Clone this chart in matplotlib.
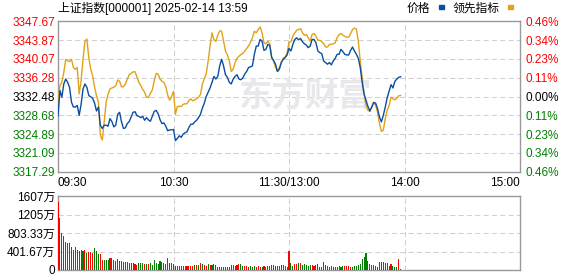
import numpy as np
import matplotlib
matplotlib.use('Agg')
from matplotlib import pyplot as plt
from matplotlib.patches import Rectangle

plt.rcParams['font.family'] = ['Liberation Sans', 'Noto Sans CJK SC']

# ---- data ----
title = '上证指数[000001] 2025-02-14 13:59'
prev_close = 3332.48
price_ticks = [3317.29, 3321.09, 3324.89, 3328.68, 3332.48, 3336.28, 3340.07, 3343.87, 3347.67]
pct_labels = ['0.46%', '0.34%', '0.23%', '0.11%', '0.00%', '0.11%', '0.23%', '0.34%', '0.46%']
time_ticks = [0, 60, 120, 180, 240]
time_labels = ['09:30', '10:30', '11:30/13:00', '14:00', '15:00']
vol_ticks = [0, 401.67, 803.33, 1205, 1607]
vol_labels = ['0', '401.67万', '803.33万', '1205万', '1607万']

price = [
    3328.55, 3333.68, 3332.34, 3335.01, 3336.01, 3335.34, 3334.34, 3331.34, 3330.35, 3330.35,
    3330.68, 3328.68, 3330.88, 3334.01, 3335.01, 3334.34, 3332.68, 3332.41, 3332.14, 3331.14,
    3329.55, 3330.35, 3326.68, 3326.02, 3326.68, 3326.68, 3326.48, 3328.01, 3327.41, 3326.35,
    3326.68, 3328.88, 3329.28, 3327.35, 3326.02, 3326.15, 3327.01, 3327.41, 3328.35, 3329.28,
    3329.41, 3328.61, 3328.48, 3328.21, 3328.48, 3327.68, 3328.21, 3327.75, 3327.48, 3328.48,
    3329.48, 3329.68, 3329.01, 3327.81, 3327.01, 3327.15, 3326.48, 3325.55, 3325.75, 3325.75,
    3325.82, 3323.55, 3324.02, 3324.55, 3324.22, 3324.88, 3325.15, 3325.35, 3326.22, 3326.88,
    3326.88, 3327.35, 3327.68, 3328.21, 3328.88, 3330.15, 3331.14, 3332.48, 3333.34, 3334.21,
    3335.34, 3336.54, 3336.01, 3336.54, 3338.67, 3340.00, 3338.67, 3336.87, 3336.34, 3335.34,
    3335.01, 3336.01, 3336.54, 3336.87, 3336.01, 3335.87, 3336.21, 3337.01, 3337.54, 3338.34,
    3338.47, 3338.67, 3341.00, 3342.67, 3342.67, 3344.00, 3343.67, 3341.80, 3342.00, 3343.00,
    3342.80, 3340.34, 3339.74, 3339.00, 3337.54, 3338.01, 3339.34, 3340.00, 3340.34, 3340.87,
    3342.20, 3341.67, 3343.00, 3344.00, 3344.33, 3343.93, 3344.20, 3343.53, 3343.13, 3342.87,
    3342.34, 3342.67, 3344.00, 3344.00, 3343.33, 3341.67, 3341.34, 3341.14, 3339.67, 3339.34,
    3339.00, 3339.34, 3338.87, 3339.67, 3340.20, 3341.00, 3341.00, 3342.00, 3341.54, 3341.00,
    3340.87, 3340.87, 3341.80, 3342.47, 3341.67, 3341.00, 3340.20, 3338.34, 3335.34, 3333.01,
    3331.68, 3330.48, 3329.55, 3330.35, 3331.28, 3331.14, 3330.01, 3328.35, 3327.35, 3328.68,
    3330.35, 3332.21, 3333.54, 3334.87, 3334.21, 3335.54, 3336.01, 3336.34, 3336.47,
]

lead = [
    3331.34, 3334.67, 3335.34, 3337.34, 3340.00, 3339.67, 3339.54, 3340.00, 3338.34, 3337.94,
    3338.34, 3333.01, 3335.67, 3340.00, 3343.67, 3344.07, 3340.34, 3338.01, 3336.67, 3334.34,
    3332.68, 3331.34, 3324.68, 3323.68, 3327.35, 3331.34, 3332.88, 3334.01, 3334.21, 3334.34,
    3334.67, 3335.81, 3335.54, 3334.41, 3334.48, 3335.01, 3336.01, 3336.87, 3337.14, 3337.47,
    3337.47, 3336.47, 3335.34, 3334.67, 3333.94, 3333.34, 3332.34, 3332.28, 3333.14, 3333.81,
    3335.67, 3337.14, 3337.01, 3336.01, 3335.54, 3335.34, 3334.48, 3332.74, 3331.74, 3332.48,
    3333.54, 3328.88, 3330.48, 3330.48, 3330.48, 3330.88, 3331.01, 3331.01, 3331.68, 3332.01,
    3331.61, 3331.81, 3332.01, 3332.34, 3332.88, 3335.01, 3336.07, 3337.01, 3339.67, 3342.67,
    3345.33, 3344.00, 3343.60, 3344.87, 3345.73, 3345.67, 3343.67, 3341.67, 3340.87, 3339.67,
    3337.54, 3338.01, 3339.34, 3340.20, 3340.60, 3340.94, 3341.20, 3341.67, 3342.14, 3342.73,
    3343.40, 3344.33, 3345.67, 3345.33, 3346.00, 3346.53, 3345.33, 3343.33, 3343.13, 3343.67,
    3343.13, 3340.47, 3339.67, 3338.34, 3337.54, 3338.34, 3339.34, 3340.20, 3340.47, 3341.20,
    3343.53, 3343.53, 3344.67, 3345.33, 3345.87, 3346.00, 3346.20, 3345.33, 3344.87, 3345.00,
    3344.33, 3343.67, 3345.00, 3345.20, 3344.67, 3343.87, 3343.80, 3343.60, 3343.13, 3342.47,
    3342.47, 3343.00, 3343.00, 3343.13, 3343.33, 3344.33, 3345.00, 3345.20, 3344.87, 3344.60,
    3344.47, 3344.47, 3345.20, 3346.00, 3346.33, 3346.13, 3343.67, 3339.67, 3336.34, 3333.01,
    3330.68, 3329.68, 3329.48, 3330.48, 3331.28, 3330.68, 3329.35, 3327.01, 3325.42, 3325.68,
    3328.01, 3329.68, 3330.68, 3332.34, 3332.01, 3331.81, 3332.14, 3332.61, 3332.68,
]

# volume in 万, per minute
volume = [
    1484, 1129, 811, 738, 608, 594, 594, 507, 434, 507,
    434, 413, 434, 413, 434, 376, 391, 391, 362, 470,
    413, 347, 347, 217, 217, 217, 217, 261, 261, 217,
    203, 232, 203, 188, 181, 174, 167, 145, 145, 159,
    138, 116, 152, 145, 145, 130, 130, 130, 159, 109,
    217, 159, 130, 195, 181, 145, 130, 268, 159, 159,
    130, 87, 87, 87, 87, 94, 80, 80, 80, 80,
    87, 101, 109, 116, 159, 130, 109, 94, 130, 101,
    101, 130, 116, 72, 72, 72, 72, 72, 72, 72,
    109, 101, 87, 116, 123, 123, 87, 80, 94, 72,
    80, 72, 80, 72, 87, 72, 65, 87, 65, 80,
    80, 101, 101, 80, 80, 87, 101, 101, 87, 72,
    420,
    145, 87, 130, 130, 152, 152, 109, 130, 109, 87,
    109, 101, 87, 109, 130, 65, 65, 174, 109, 87,
    65, 87, 65, 65, 65, 80, 72, 87, 87, 87,
    80, 65, 72, 87, 87, 101, 138, 239, 282, 369,
    195, 123, 109, 109, 87, 65, 174, 174, 174, 152,
    152, 87, 130, 87, 65, 65, 239, 22,
]
# 1 = up minute (red), 0 = down minute (green)
vol_up = [
    1, 0, 1, 1, 0, 0, 0, 0, 1, 1,
    1, 1, 1, 0, 1, 0, 1, 1, 1, 0,
    0, 0, 1, 1, 0, 0, 0, 1, 1, 1,
    1, 1, 1, 1, 1, 1, 1, 0, 0, 0,
    1, 1, 0, 0, 0, 1, 0, 1, 0, 0,
    0, 0, 0, 0, 1, 1, 1, 0, 1, 1,
    1, 0, 1, 1, 1, 0, 1, 1, 1, 1,
    1, 0, 1, 0, 1, 0, 1, 1, 0, 1,
    0, 0, 0, 1, 1, 1, 1, 1, 0, 1,
    1, 1, 1, 1, 1, 0, 0, 1, 1, 1,
    0, 0, 0, 1, 1, 1, 0, 1, 1, 1,
    1, 1, 0, 0, 1, 0, 1, 1, 0, 1,
    1,
    0, 0, 1, 1, 0, 1, 0, 0, 0, 0,
    0, 1, 1, 0, 0, 1, 0, 0, 1, 0,
    0, 0, 1, 1, 1, 1, 0, 0, 1, 1,
    1, 1, 0, 0, 0, 0, 0, 0, 0, 0,
    0, 0, 1, 1, 0, 0, 0, 0, 1, 1,
    1, 1, 1, 0, 0, 0, 1, 1,
]

BLUE = '#0b4ea2'
ORANGE = '#e0a21b'
RED = '#ff0000'
GREEN = '#008000'
GRID = '#d0d0d0'
FS = 8.5

W, H = 578, 276


def fx(px):
    return px / W


def fy(py):
    return 1 - py / H


def style_axes(ax):
    for s in ax.spines.values():
        s.set_color('#999999')
        s.set_linewidth(1.0)
    ax.tick_params(length=0, labelsize=FS)
    ax.grid(True, color=GRID, linestyle=(0, (5, 3)), linewidth=0.75)
    ax.set_axisbelow(True)


def main():
    fig = plt.figure(figsize=(W / 100, H / 100), dpi=100)
    ax = fig.add_axes([fx(58), fy(171.7), fx(462), 150.4 / H])
    axv = fig.add_axes([fx(58), fy(270), fx(462), 74 / H])

    t = np.arange(len(price))
    style_axes(ax)
    ax.plot(t, lead, color=ORANGE, lw=1.0, zorder=3)
    ax.plot(t, price, color=BLUE, lw=1.0, zorder=4)
    ax.set_xlim(0, 240)
    ax.set_ylim(price_ticks[0], price_ticks[-1])
    ax.set_yticks(price_ticks, [f'{p:.2f}' for p in price_ticks])
    ax.tick_params(axis='y', pad=2)
    for lab, p in zip(ax.get_yticklabels(), price_ticks):
        lab.set_color(RED if p > prev_close + 0.01 else GREEN if p < prev_close - 0.01 else 'black')
    ax.set_xticks(time_ticks, time_labels)
    ax.tick_params(axis='x', pad=4)
    xl = ax.get_xticklabels()
    xl[0].set_ha('left')
    xl[-1].set_ha('right')

    axr = ax.twinx()
    axr.set_ylim(price_ticks[0], price_ticks[-1])
    axr.set_yticks(price_ticks, pct_labels[::-1])
    axr.tick_params(length=0, labelsize=FS, pad=4)
    for s in axr.spines.values():
        s.set_visible(False)
    for lab, p in zip(axr.get_yticklabels(), price_ticks):
        lab.set_color(RED if p > prev_close + 0.01 else GREEN if p < prev_close - 0.01 else 'black')

    # watermark
    ax.text(fx(305), fy(97), '东方财富', transform=fig.transFigure, fontsize=24,
            fontweight='bold', color='#e8e8ec', ha='center', va='center',
            family='Noto Sans CJK SC', zorder=1)

    # volume panel
    style_axes(axv)
    tv = np.arange(len(volume))
    colors = [RED if u else GREEN for u in vol_up]
    axv.bar(tv, volume, width=0.55, color=colors, linewidth=0, antialiased=False, zorder=3)
    axv.set_xlim(0, 240)
    axv.set_ylim(0, vol_ticks[-1])
    axv.set_xticks(time_ticks[1:-1])
    axv.set_xticklabels([])
    axv.set_yticks(vol_ticks, vol_labels)
    axv.tick_params(axis='y', pad=2)

    # header
    fig.text(fx(58), fy(8.5), title, fontsize=FS, ha='left', va='center')
    fig.text(fx(407), fy(9), '价格', fontsize=FS, ha='left', va='center')
    fig.add_artist(Rectangle((fx(439), fy(8.5)), fx(5), 3 / H, color=BLUE,
                             transform=fig.transFigure))
    fig.text(fx(453), fy(9), '领先指标', fontsize=FS, ha='left', va='center')
    fig.add_artist(Rectangle((fx(508), fy(8.5)), fx(5), 3 / H, color=ORANGE,
                             transform=fig.transFigure))

    fig.savefig('out.png', dpi=100)


if __name__ == '__main__':
    main()
